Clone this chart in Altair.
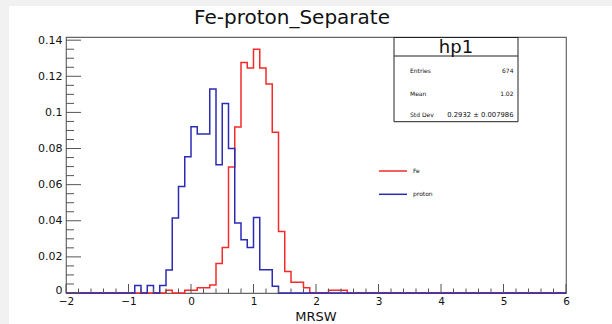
import altair as alt
import pandas as pd

# ---------------- data ----------------
bin_low = [-1.0, -0.9, -0.8, -0.7, -0.6, -0.5, -0.4, -0.3, -0.2, -0.1,
           0.0, 0.1, 0.2, 0.3, 0.4, 0.5, 0.6, 0.7, 0.8, 0.9,
           1.0, 1.1, 1.2, 1.3, 1.4, 1.5, 1.6, 1.7, 1.8, 1.9,
           2.0, 2.1, 2.2, 2.3, 2.4, 2.5]
fe_vals = [0, 0, 0, 0, 0, 0, 0.00148, 0, 0, 0.00148,
           0.00148, 0.00297, 0.00297, 0.00445, 0.01632, 0.02522, 0.06973, 0.09199, 0.12760, 0.12463,
           0.13501, 0.12463, 0.11573, 0.08902, 0.03412, 0.01187, 0.00593, 0.00593, 0.00297, 0,
           0, 0, 0.00148, 0.00148, 0.00148, 0]
proton_vals = [0, 0.0041, 0, 0.0041, 0, 0.0041, 0.0128, 0.0415, 0.059, 0.0754,
               0.092, 0.088, 0.088, 0.113, 0.071, 0.105, 0.080, 0.0388, 0.0295, 0.0252,
               0.0418, 0.0129, 0.0129, 0.0037, 0, 0, 0, 0, 0, 0,
               0, 0, 0, 0, 0, 0]
x_range = [-2, 6]
x_tick_labels = [-2, -1, 0, 1, 2, 3, 4, 5, 6]
y_tick_labels = [0, 0.02, 0.04, 0.06, 0.08, 0.1, 0.12, 0.14]
y_max = 0.14176

title_text = "Fe-proton_Separate"
x_title = "MRSW"
stat_name = "hp1"
stat_labels = ["Entries", "Mean", "Std Dev"]
stat_values = ["674", "1.02", "0.2932 \u00b1 0.007986"]
legend_labels = ["Fe", "proton"]

RED = "#f52a2a"
BLUE = "#2b2bb5"
FONT = "DejaVu Sans"

W, H = 500, 256
L, T = 66, 37


def hist_frame(vals):
    xs = [x_range[0]] + bin_low + [x_range[1]]
    ys = [0] + vals + [0]
    return pd.DataFrame({"x": xs, "y": ys})


one = pd.DataFrame({"a": [0]})
xsc = alt.Scale(domain=x_range, nice=False, zero=False)
ysc = alt.Scale(domain=[0, y_max], nice=False, zero=False)
xax = alt.Axis(values=x_tick_labels, format="d", ticks=False, domain=False, grid=False,
               labelFont=FONT, labelFontSize=10.5, labelColor="#111", labelPadding=3,
               labelFlush=False, labelOverlap=False, title=None)
yax = alt.Axis(values=y_tick_labels, format="~g", ticks=False, domain=False, grid=False,
               labelFont=FONT, labelFontSize=11, labelColor="#111", labelPadding=4,
               labelBaseline={"condition": {"test": "datum.value == 0", "value": "alphabetic"},
                              "value": "middle"},
               labelOverlap=False, title=None)


def X(field):
    return alt.X(field, scale=xsc, axis=xax, title=None)


def Y(field):
    return alt.Y(field, scale=ysc, axis=yax, title=None)


def txt(s, x, y, size, align="left", baseline="middle", color="#111"):
    return alt.Chart(one).mark_text(
        align=align, baseline=baseline, font=FONT, fontSize=size, color=color
    ).encode(x=alt.value(x - L), y=alt.value(y - T), text=alt.value(s))


def rect(x1, x2, y1, y2, fill, stroke=None, sw=0):
    kw = dict(fill=fill)
    if stroke:
        kw.update(stroke=stroke, strokeWidth=sw)
    return alt.Chart(one).mark_rect(**kw).encode(
        x=alt.value(x1 - L), x2=alt.value(x2 - L), y=alt.value(y1 - T), y2=alt.value(y2 - T))


def seg(x1, x2, y1, y2, color, sw):
    return alt.Chart(one).mark_rule(color=color, strokeWidth=sw).encode(
        x=alt.value(x1 - L), x2=alt.value(x2 - L), y=alt.value(y1 - T), y2=alt.value(y2 - T))


# background strips of the canvas
bg_left = rect(0, 9, 0, 324, "#f1f1f1")
bg_top = rect(0, 612, 0, 6, "#f1f1f1")

fe_line = alt.Chart(hist_frame(fe_vals)).mark_line(
    interpolate="step-after", color=RED, strokeWidth=1.5
).encode(x=X("x:Q"), y=Y("y:Q"))
proton_line = alt.Chart(hist_frame(proton_vals)).mark_line(
    interpolate="step-after", color=BLUE, strokeWidth=1.5
).encode(x=X("x:Q"), y=Y("y:Q"))

# ROOT style inward ticks
x_major = pd.DataFrame({"x": x_tick_labels})
x_minor = pd.DataFrame({"x": [round(-2 + 0.2 * i, 1) for i in range(41) if i % 5 != 0]})
y_major = pd.DataFrame({"y": y_tick_labels})
y_minor = pd.DataFrame({"y": [round(0.005 * i, 3) for i in range(29) if i % 4 != 0]})

tick_col = "#555"
xt1 = alt.Chart(x_major).mark_rule(color=tick_col, strokeWidth=1).encode(
    x=X("x:Q"), y=alt.value(H), y2=alt.value(H - 9))
xt2 = alt.Chart(x_minor).mark_rule(color=tick_col, strokeWidth=1).encode(
    x=X("x:Q"), y=alt.value(H), y2=alt.value(H - 4.5))
yt1 = alt.Chart(y_major).mark_rule(color=tick_col, strokeWidth=1).encode(
    y=Y("y:Q"), x=alt.value(0), x2=alt.value(15))
yt2 = alt.Chart(y_minor).mark_rule(color=tick_col, strokeWidth=1).encode(
    y=Y("y:Q"), x=alt.value(0), x2=alt.value(8))

# stat box
box = rect(394, 518, 37.5, 121.7, "white", "#222", 1)
box_sep = seg(394, 518, 56, 56, "#222", 1)
box_title = txt(stat_name, 456, 52.5, 18, align="center", baseline="alphabetic")
stat_rows_y = [70.7, 94, 115]
stat_texts = []
for lab, val, yy in zip(stat_labels, stat_values, stat_rows_y):
    stat_texts.append(txt(lab, 410, yy, 6))
    stat_texts.append(txt(val, 513.5, yy, 6.8 if "\u00b1" in val else 6, align="right"))

# legend
leg = [
    seg(379, 407, 171, 171, RED, 1.5),
    txt(legend_labels[0], 413, 171, 6),
    seg(379, 407, 194.3, 194.3, BLUE, 1.5),
    txt(legend_labels[1], 413, 194.3, 6),
]

title = txt(title_text, 292, 24, 20, align="center", baseline="alphabetic")
xtitle = txt(x_title, 316, 321, 13, align="center", baseline="alphabetic")

chart = alt.layer(
    bg_left, bg_top, fe_line, proton_line, xt1, xt2, yt1, yt2,
    box, box_sep, box_title, *stat_texts, *leg, title, xtitle
).properties(
    width=W, height=H,
    padding={"left": L, "top": T, "right": 612 - L - W, "bottom": 324 - T - H},
    autosize=alt.AutoSizeParams(type="none"),
    background="white",
).configure_view(stroke="#666", strokeWidth=1.2)

chart.save("out.html", embed_options={"renderer": "svg", "actions": False})
